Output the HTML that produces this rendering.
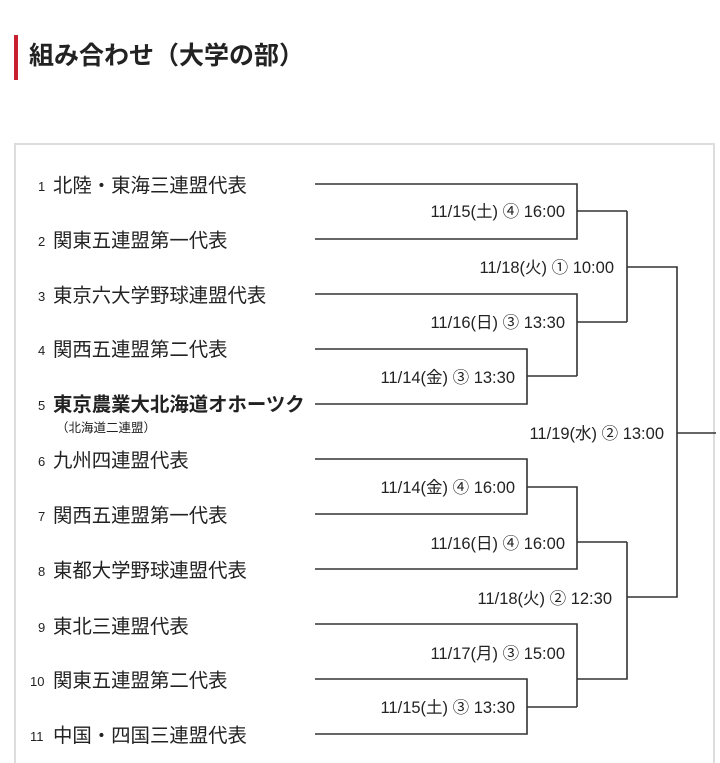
<!DOCTYPE html>
<html><head><meta charset="utf-8"><style>
html,body{margin:0;padding:0;background:#fff;width:720px;height:763px;overflow:hidden}
svg{display:block}
text{font-family:"Liberation Sans","Noto Sans CJK JP",sans-serif;fill:#222}
</style></head><body>
<svg width="720" height="763" viewBox="0 0 720 763">
<rect x="14" y="35" width="4" height="45" fill="#c8202f"/>
<text x="29" y="64" font-size="25" font-weight="bold" fill="#222">組み合わせ（大学の部）</text>
<rect x="15" y="144" width="699" height="640" fill="none" stroke="#ddd" stroke-width="2"/>
<g font-size="19.4">
<text x="38" y="191" font-size="13">1</text><text x="53" y="192">北陸・東海三連盟代表</text>
<text x="38" y="246" font-size="13">2</text><text x="53" y="247">関東五連盟第一代表</text>
<text x="38" y="301" font-size="13">3</text><text x="53" y="302">東京六大学野球連盟代表</text>
<text x="38" y="355" font-size="13">4</text><text x="53" y="356">関西五連盟第二代表</text>
<text x="38" y="410" font-size="13">5</text><text x="53" y="411" font-weight="bold">東京農業大北海道オホーツク</text>
<text x="56" y="432" font-size="12.5">（北海道二連盟）</text>
<text x="38" y="466" font-size="13">6</text><text x="53" y="467">九州四連盟代表</text>
<text x="38" y="521" font-size="13">7</text><text x="53" y="522">関西五連盟第一代表</text>
<text x="38" y="576" font-size="13">8</text><text x="53" y="577">東都大学野球連盟代表</text>
<text x="38" y="632" font-size="13">9</text><text x="53" y="633">東北三連盟代表</text>
<text x="30" y="686" font-size="13">10</text><text x="53" y="687">関東五連盟第二代表</text>
<text x="30" y="741" font-size="13">11</text><text x="53" y="742">中国・四国三連盟代表</text>
</g>
<g stroke="#333" stroke-width="1.6" fill="none">
<path d="M315 184H577V239H315M577 211H627"/>
<path d="M315 294H577V376M315 349H527V404H315M527 376H577M577 322H627"/>
<path d="M627 211V322M627 267H677V597H627M677 433H716"/>
<path d="M315 459H527V514H315M527 487H577V569H315M577 542H627"/>
<path d="M315 624H577V707M315 679H527V734H315M527 707H577M577 679H627V542"/>
</g>
<g font-size="16.5" text-anchor="end">
<text x="565" y="217">11/15(土) ④ 16:00</text>
<text x="614" y="273">11/18(火) ① 10:00</text>
<text x="565" y="328">11/16(日) ③ 13:30</text>
<text x="515" y="383">11/14(金) ③ 13:30</text>
<text x="664" y="439">11/19(水) ② 13:00</text>
<text x="515" y="493">11/14(金) ④ 16:00</text>
<text x="565" y="549">11/16(日) ④ 16:00</text>
<text x="612" y="604">11/18(火) ② 12:30</text>
<text x="565" y="659">11/17(月) ③ 15:00</text>
<text x="515" y="713">11/15(土) ③ 13:30</text>
</g>
</svg>
</body></html>
